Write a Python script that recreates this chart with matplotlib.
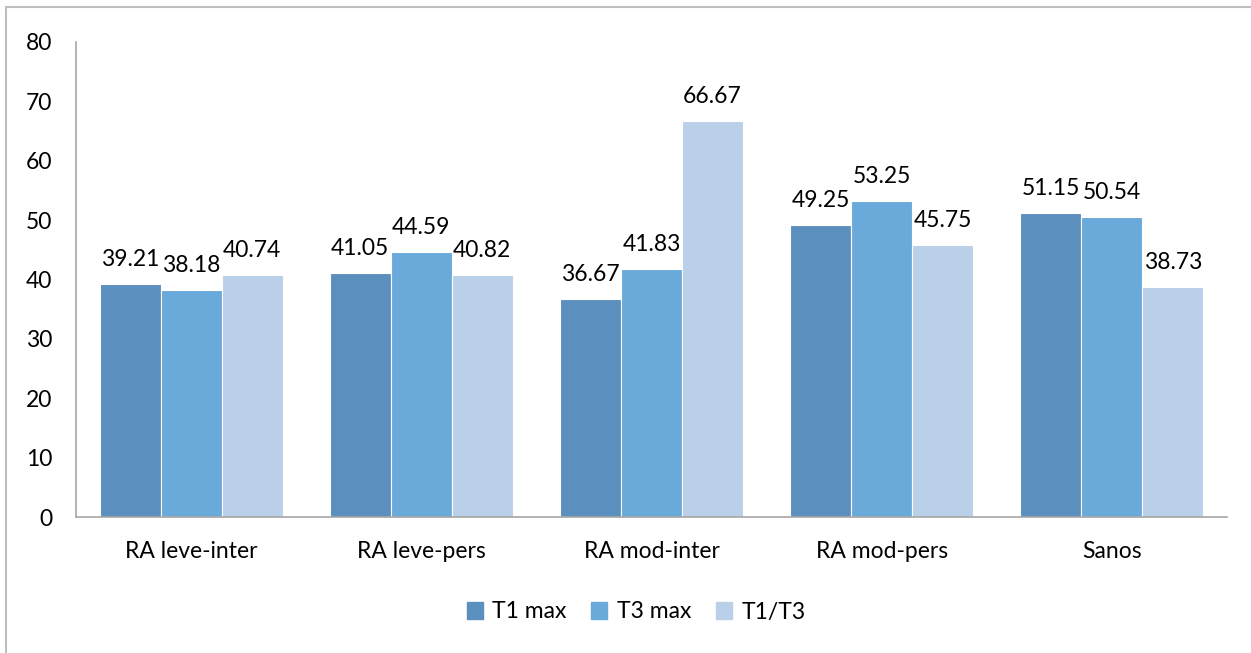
import matplotlib
matplotlib.use("Agg")
import matplotlib.pyplot as plt
import numpy as np
from matplotlib.lines import Line2D

categories = ["RA leve-inter", "RA leve-pers", "RA mod-inter", "RA mod-pers", "Sanos"]
series_names = ["T1 max", "T3 max", "T1/T3"]
t1_max = [39.21, 41.05, 36.67, 49.25, 51.15]
t3_max = [38.18, 44.59, 41.83, 53.25, 50.54]
t1_t3 = [40.74, 40.82, 66.67, 45.75, 38.73]
y_ticks = [0, 10, 20, 30, 40, 50, 60, 70, 80]

colors = ["#5B8FBE", "#6AAADA", "#BAD0E8"]

plt.rcParams["font.family"] = ["Lato", "DejaVu Sans"]
FS = 16.5

fig = plt.figure(figsize=(12.51, 6.53), dpi=100)
ax = fig.add_axes([76 / 1251, 1 - 517 / 653, (1227 - 76) / 1251, (517 - 42) / 653])

x = np.arange(len(categories))
bw = 0.265
for i, (vals, col, name) in enumerate(zip([t1_max, t3_max, t1_t3], colors, series_names)):
    pos = x + (i - 1) * bw
    ax.bar(pos, vals, width=bw, color=col, edgecolor="white", linewidth=0.8, label=name)
    for p, v in zip(pos, vals):
        ax.annotate(f"{v:.2f}", (p, v), xytext=(0, 10), textcoords="offset points",
                    ha="center", va="bottom", fontsize=FS, color="#000000")

ax.set_xlim(-0.5, len(categories) - 0.5)
ax.set_ylim(0, 80)
ax.set_yticks(y_ticks)
ax.set_yticklabels([str(t) for t in y_ticks], fontsize=FS)
ax.set_xticks(x)
ax.set_xticklabels(categories, fontsize=FS)
ax.tick_params(axis="both", length=0)
ax.tick_params(axis="y", pad=17)
ax.tick_params(axis="x", pad=17)
for s in ["top", "right"]:
    ax.spines[s].set_visible(False)
for s in ["left", "bottom"]:
    ax.spines[s].set_color("#A6A6A6")
    ax.spines[s].set_linewidth(1.2)

handles = [plt.Rectangle((0, 0), 1, 1, color=c) for c in colors]
fig.legend(handles, series_names, loc="center", bbox_to_anchor=(636 / 1251, 1 - 612 / 653),
           ncol=3, frameon=False, fontsize=FS, handlelength=0.7, handleheight=0.7,
           columnspacing=1.1, handletextpad=0.4)

# outer chart frame (left and top edges)
fig.add_artist(Line2D([6 / 1251, 6 / 1251], [0, 1 - 7 / 653], transform=fig.transFigure,
                      color="#BFBFBF", linewidth=1.5))
fig.add_artist(Line2D([6 / 1251, 1], [1 - 7 / 653, 1 - 7 / 653], transform=fig.transFigure,
                      color="#BFBFBF", linewidth=1.5))

fig.savefig("out.png", dpi=100)
